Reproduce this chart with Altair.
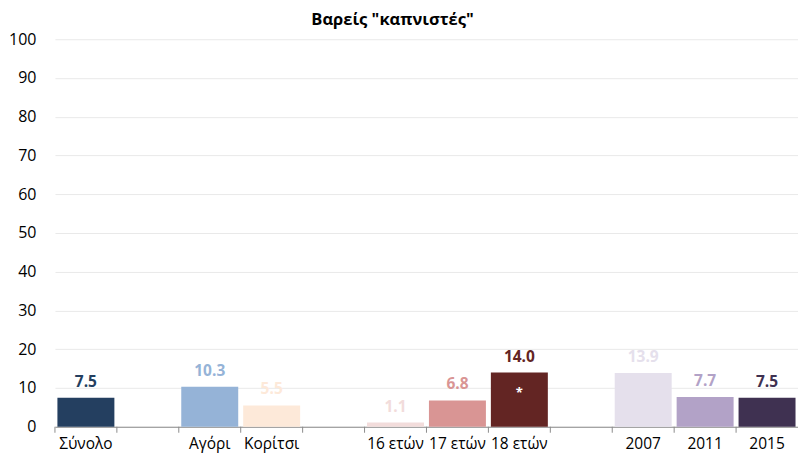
import altair as alt
import pandas as pd

categories = ["Σύνολο", " ", "Αγόρι", "Κορίτσι", "  ", "16 ετών", "17 ετών", "18 ετών", "   ", "2007", "2011", "2015"]
values = [7.5, None, 10.3, 5.5, None, 1.1, 6.8, 14.0, None, 13.9, 7.7, 7.5]
colors = ["#243F60", "#FFFFFF", "#95B3D7", "#FDE9D9", "#FFFFFF", "#F2DCDB", "#D99594", "#632523", "#FFFFFF", "#E5E0EC", "#B2A2C7", "#3F3151"]
notes = ["", "", "", "", "", "", "", "*", "", "", "", ""]
yticks = [0, 10, 20, 30, 40, 50, 60, 70, 80, 90, 100]

df = pd.DataFrame({"cat": categories, "val": values, "color": colors, "note": notes})
df["label"] = df["val"].map(lambda v: "" if pd.isna(v) else f"{v:.1f}")

FONT = "Open Sans"
H = 388
W = 744

xaxis = alt.Axis(title=None, ticks=False, labelAngle=0, labelFont=FONT, labelFontSize=15.5,
                 labelColor="#000000", domainColor="#8c8c8c", labelPadding=10, grid=False,
                 labelOverlap=False)
yaxis = alt.Axis(title=None, values=yticks, ticks=False, domain=False, labelOverlap=False,
                 gridColor="#e9e9e9", labelFont=FONT, labelFontSize=16, labelColor="#000000",
                 labelPadding=19)
xscale = alt.Scale(paddingInner=0, paddingOuter=0)
yscale = alt.Scale(domain=[0, 100])


def X(**kw):
    return alt.X("cat:N", sort=categories, scale=xscale, axis=xaxis, **kw)


def Y():
    return alt.Y("val:Q", scale=yscale, axis=yaxis)


base = alt.Chart(df)

bars = base.transform_filter("isValid(datum.val)").mark_bar(width=alt.RelativeBandSize(0.92)).encode(
    x=X(), y=Y(), color=alt.Color("color:N", scale=None),
)

labels = base.transform_filter("isValid(datum.val)").mark_text(
    font=FONT, fontSize=15.5, fontWeight="bold", baseline="bottom", dy=-8
).encode(
    x=X(), y=Y(), text="label:N", color=alt.Color("color:N", scale=None),
)

stars = base.transform_filter("datum.note != ''").mark_text(
    font=FONT, fontSize=13, fontWeight="bold", baseline="middle", dy=21, color="white"
).encode(
    x=X(), y=Y(), text="note:N",
)

ticks = base.mark_rule(color="#8c8c8c").encode(
    x=X(bandPosition=0),
    y=alt.value(H),
    y2=alt.value(H + 6),
)

chart = alt.layer(bars, labels, stars, ticks).properties(
    width=W, height=H,
    title=alt.TitleParams('Βαρείς "καπνιστές"', font=FONT, fontSize=16.5, fontWeight="bold",
                          color="#000000", anchor="middle", offset=3, dx=-34),
    padding={"left": 0, "top": 3, "right": 0, "bottom": 4},
).configure_view(stroke=None)

chart.save("out.html", embed_options={"renderer": "svg", "actions": False})
